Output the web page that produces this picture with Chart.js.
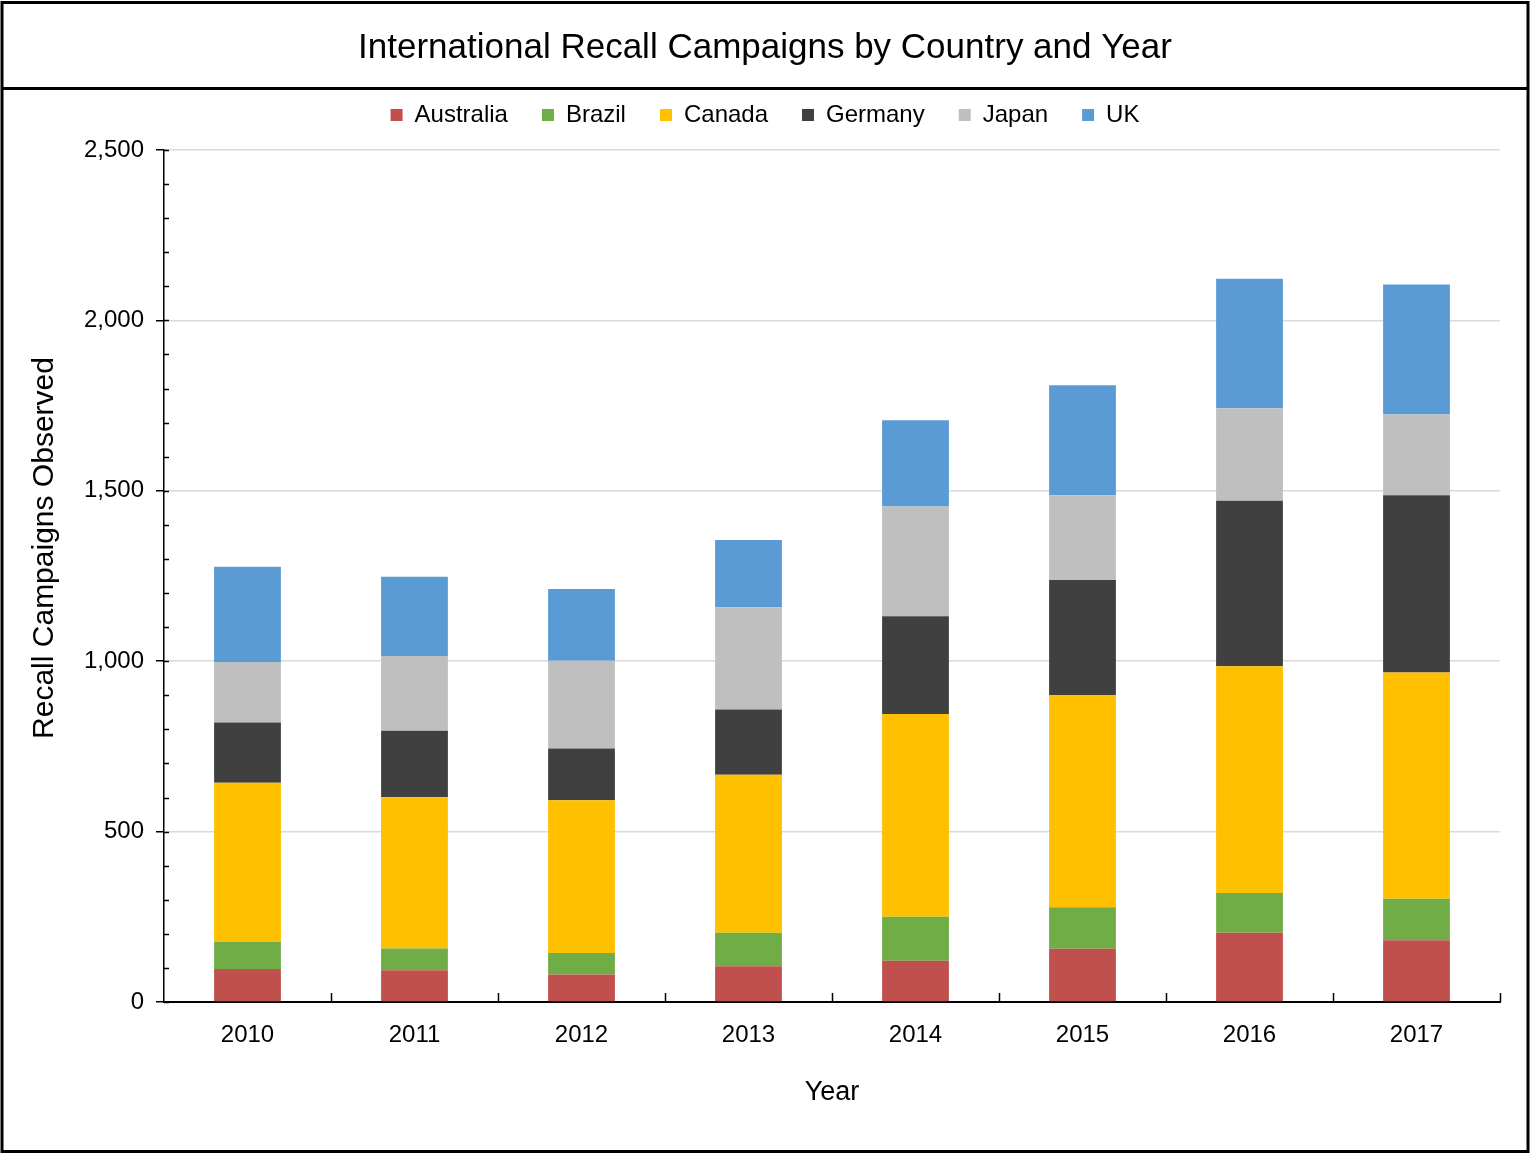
<!DOCTYPE html>
<html>
<head>
<meta charset="utf-8">
<title>International Recall Campaigns by Country and Year</title>
<script src="https://cdn.jsdelivr.net/npm/chart.js@4.4.1/dist/chart.umd.min.js"></script>
<style>
  html, body { margin: 0; padding: 0; background: #fff; }
  canvas { display: block; }
</style>
</head>
<body>
<canvas id="RecallChart" width="1530" height="1153"></canvas>
<script>
// recall campaigns per country, stacked by year
const years = ['2010', '2011', '2012', '2013', '2014', '2015', '2016', '2017'];
const australia = [97, 93, 81, 105, 121, 156, 203, 181];
const brazil    = [80, 64, 63, 98, 129, 122, 117, 122];
const canada    = [466, 444, 448, 464, 595, 623, 665, 664];
const germany   = [177, 195, 152, 191, 287, 337, 486, 520];
const japan     = [178, 219, 257, 300, 322, 249, 271, 237];
const uk        = [279, 233, 211, 198, 253, 323, 380, 381];

const yMax = 2500;
const yStep = 500;
const yMinorStep = 100;

const FONT = "'Liberation Sans', Arial, sans-serif";
Chart.defaults.font.family = FONT;
Chart.defaults.color = '#000';

function series(label, data, color) {
  return {
    label: label,
    data: data,
    backgroundColor: color,
    borderWidth: 0,
    barPercentage: 0.4,
    categoryPercentage: 1.0
  };
}

const Rdata = {
  labels: years,
  datasets: [
    series('Australia', australia, '#C0504D'),
    series('Brazil', brazil, '#70AD47'),
    series('Canada', canada, '#FFC000'),
    series('Germany', germany, '#404040'),
    series('Japan', japan, '#BFBFBF'),
    series('UK', uk, '#5B9BD5')
  ]
};

// empty strip between the legend and the plot
const legendGap = {
  id: 'legendGap',
  beforeInit(chart) {
    Chart.layouts.addBox(chart, {
      position: 'top',
      weight: 500,
      fullSize: true,
      options: {},
      width: 0, height: 0, left: 0, top: 0, right: 0, bottom: 0,
      isHorizontal() { return true; },
      update(maxWidth) { this.width = maxWidth; this.height = 13; },
      draw() {}
    });
  }
};

// white background, outer frame, inward minor ticks, y axis title
const chartFrame = {
  id: 'chartFrame',
  beforeDraw(chart) {
    const ctx = chart.ctx;
    ctx.save();
    ctx.fillStyle = '#fff';
    ctx.fillRect(0, 0, chart.width, chart.height);
    ctx.restore();
  },
  afterDraw(chart) {
    const ctx = chart.ctx;
    const area = chart.chartArea;
    const x = chart.scales.x;
    const y = chart.scales.y;
    ctx.save();
    ctx.strokeStyle = '#000';
    ctx.lineWidth = 1.5;
    ctx.beginPath();
    for (let v = 0; v <= yMax; v += yMinorStep) {
      const py = Math.round(y.getPixelForValue(v)) + 0.5;
      ctx.moveTo(area.left, py);
      ctx.lineTo(area.left + 5, py);
    }
    const half = (x.getPixelForValue(1) - x.getPixelForValue(0)) / 2;
    years.forEach(function(_, i) {
      const px = Math.round(x.getPixelForValue(i) + half) + 0.5;
      ctx.moveTo(px, area.bottom);
      ctx.lineTo(px, area.bottom - 9);
    });
    ctx.stroke();

    ctx.fillStyle = '#000';
    ctx.font = '30px ' + FONT;
    ctx.textAlign = 'center';
    ctx.textBaseline = 'middle';
    ctx.translate(area.left - 119, (area.top + area.bottom) / 2 - 28);
    ctx.rotate(-Math.PI / 2);
    ctx.fillText('Recall Campaigns Observed', 0, 0);
    ctx.setTransform(1, 0, 0, 1, 0, 0);

    ctx.lineWidth = 3;
    ctx.strokeRect(2, 2.5, chart.width - 4, chart.height - 4);
    ctx.beginPath();
    ctx.moveTo(2, 88.5);
    ctx.lineTo(chart.width - 2, 88.5);
    ctx.stroke();
    ctx.restore();
  }
};

const Rconfig = {
  type: 'bar',
  data: Rdata,
  plugins: [legendGap, chartFrame],
  options: {
    responsive: false,
    animation: false,
    layout: { padding: { top: 3, left: 0, right: 0, bottom: 3 } },
    plugins: {
      title: {
        display: true,
        text: 'International Recall Campaigns by Country and Year',
        color: '#000',
        font: { size: 35, weight: 'normal' },
        padding: { top: 24, bottom: 0 }
      },
      legend: {
        position: 'top',
        labels: {
          boxWidth: 12,
          boxHeight: 12,
          padding: 34,
          color: '#000',
          font: { size: 24 }
        }
      },
      tooltip: { enabled: false }
    },
    scales: {
      x: {
        stacked: true,
        grid: { display: false, drawTicks: false },
        border: { display: true, color: '#000', width: 2 },
        ticks: { color: '#000', font: { size: 24 }, padding: 19 },
        title: {
          display: true,
          text: 'Year',
          color: '#000',
          font: { size: 27 },
          padding: { top: 0, bottom: 41 }
        },
        afterFit: function(scale) {
          scale.height = 148;
          scale.paddingRight = 30;
        }
      },
      y: {
        stacked: true,
        min: 0,
        max: yMax,
        ticks: {
          stepSize: yStep,
          color: '#000',
          font: { size: 24 },
          padding: 12,
          callback: function(v) { return v.toLocaleString('en-US'); }
        },
        grid: { color: '#dadada', lineWidth: 1.5, tickColor: '#000', tickLength: 8 },
        border: { display: true, color: '#000', width: 1.5 },
        afterFit: function(scale) {
          scale.width = 164;
        }
      }
    }
  }
};

var RecallChart = new Chart(
  document.getElementById('RecallChart'),
  Rconfig
);
</script>
</body>
</html>
